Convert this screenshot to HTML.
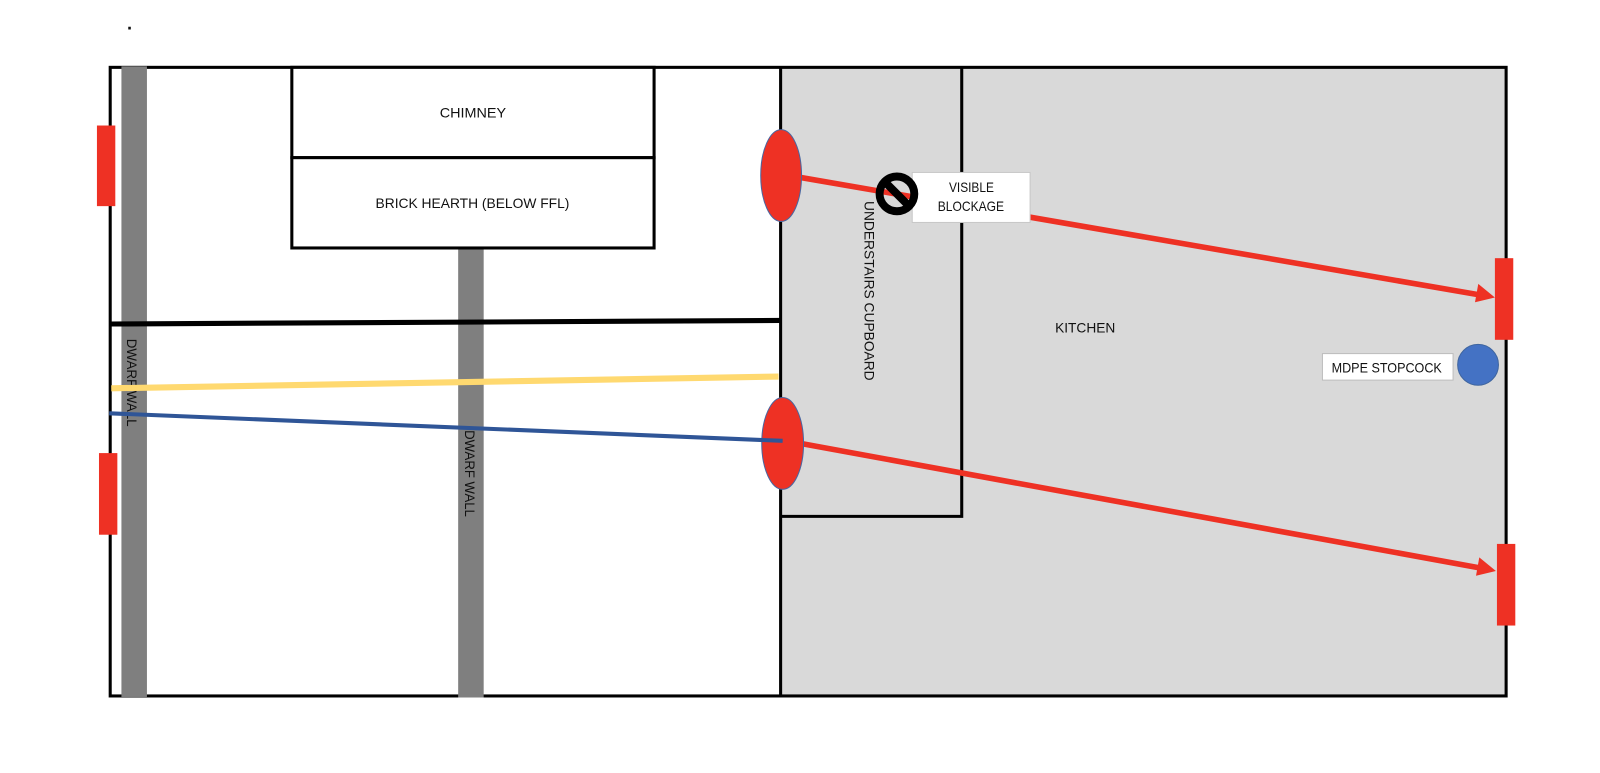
<!DOCTYPE html>
<html><head><meta charset="utf-8"><style>
html,body{margin:0;padding:0;background:#fff;width:1600px;height:773px;overflow:hidden}
svg{display:block}
text{font-family:"Liberation Sans",sans-serif;font-size:14px;fill:#111;text-anchor:middle}
</style></head><body>
<svg width="1600" height="773" viewBox="0 0 1568 757.5" preserveAspectRatio="none" xmlns="http://www.w3.org/2000/svg">
<rect width="1568" height="757.5" fill="#fff"/>
<text x="127" y="29" style="font-size:18px;font-weight:bold">.</text>
<rect x="765" y="66" width="711" height="616" fill="#d9d9d9"/>
<rect x="108" y="66" width="1368" height="616" fill="none" stroke="#000" stroke-width="3"/>
<rect x="119" y="65" width="25" height="618" fill="#7f7f7f"/>
<rect x="449" y="244" width="25" height="439.500" fill="#7f7f7f"/>
<line x1="765" y1="66" x2="765" y2="682" stroke="#000" stroke-width="3"/>
<polyline points="942.500,66 942.500,506 765,506" fill="none" stroke="#000" stroke-width="3"/>
<rect x="286" y="66" width="355" height="88.500" fill="#fff" stroke="#000" stroke-width="3"/>
<rect x="286" y="154.500" width="355" height="88.500" fill="#fff" stroke="#000" stroke-width="3"/>
<text x="463.500" y="115" textLength="65" lengthAdjust="spacingAndGlyphs">CHIMNEY</text>
<text x="463" y="204" textLength="190" lengthAdjust="spacingAndGlyphs">BRICK HEARTH (BELOW FFL)</text>
<line x1="108" y1="317.500" x2="765" y2="314" stroke="#000" stroke-width="5"/>
<text transform="translate(125,375) rotate(90)" x="0" y="0" textLength="86" lengthAdjust="spacingAndGlyphs" dy="0.500">DWARF WALL</text>
<text transform="translate(455.500,464) rotate(90)" x="0" y="0" textLength="85" lengthAdjust="spacingAndGlyphs">DWARF WALL</text>
<line x1="109" y1="380.500" x2="763" y2="369" stroke="#ffd970" stroke-width="6"/>
<rect x="95" y="123" width="18" height="79" fill="#ee3124"/>
<rect x="97" y="444" width="18" height="80" fill="#ee3124"/>
<line x1="785" y1="174" x2="1450" y2="289" stroke="#ee3124" stroke-width="5.500"/>
<polygon points="1465,291.500 1448.700,278.200 1445.500,296.200" fill="#ee3124"/>
<line x1="787" y1="435" x2="1450" y2="556.500" stroke="#ee3124" stroke-width="5.500"/>
<polygon points="1466,559.500 1449.700,546.200 1446.500,564.200" fill="#ee3124"/>
<rect x="1465" y="253" width="18" height="80" fill="#ee3124"/>
<rect x="1467" y="533" width="18" height="80" fill="#ee3124"/>
<ellipse cx="765.500" cy="172" rx="20" ry="45" fill="#ee3124" stroke="#4a66a0" stroke-width="1"/>
<ellipse cx="767" cy="434.500" rx="20.500" ry="45" fill="#ee3124" stroke="#4a66a0" stroke-width="1"/>
<line x1="107" y1="405" x2="767" y2="432" stroke="#2f5597" stroke-width="4"/>
<text transform="translate(847,285) rotate(90)" x="0" y="0" textLength="176" lengthAdjust="spacingAndGlyphs">UNDERSTAIRS CUPBOARD</text>
<rect x="894" y="169" width="115.500" height="49" fill="#fff" stroke="#c8c8c8" stroke-width="1"/>
<circle cx="879" cy="190" r="17" fill="none" stroke="#000" stroke-width="7.800"/>
<line x1="867" y1="178" x2="891" y2="202" stroke="#000" stroke-width="7.800"/>
<text x="952" y="188" textLength="44" lengthAdjust="spacingAndGlyphs">VISIBLE</text>
<text x="951.500" y="207" textLength="65" lengthAdjust="spacingAndGlyphs">BLOCKAGE</text>
<text x="1063.500" y="326" textLength="59" lengthAdjust="spacingAndGlyphs">KITCHEN</text>
<rect x="1296" y="346.500" width="128" height="26" fill="#fff" stroke="#bdbdbd" stroke-width="1"/>
<text x="1359" y="365" textLength="108" lengthAdjust="spacingAndGlyphs">MDPE STOPCOCK</text>
<circle cx="1448.500" cy="357.500" r="20" fill="#4472c4" stroke="#3f659f" stroke-width="1"/>
</svg>
</body></html>
